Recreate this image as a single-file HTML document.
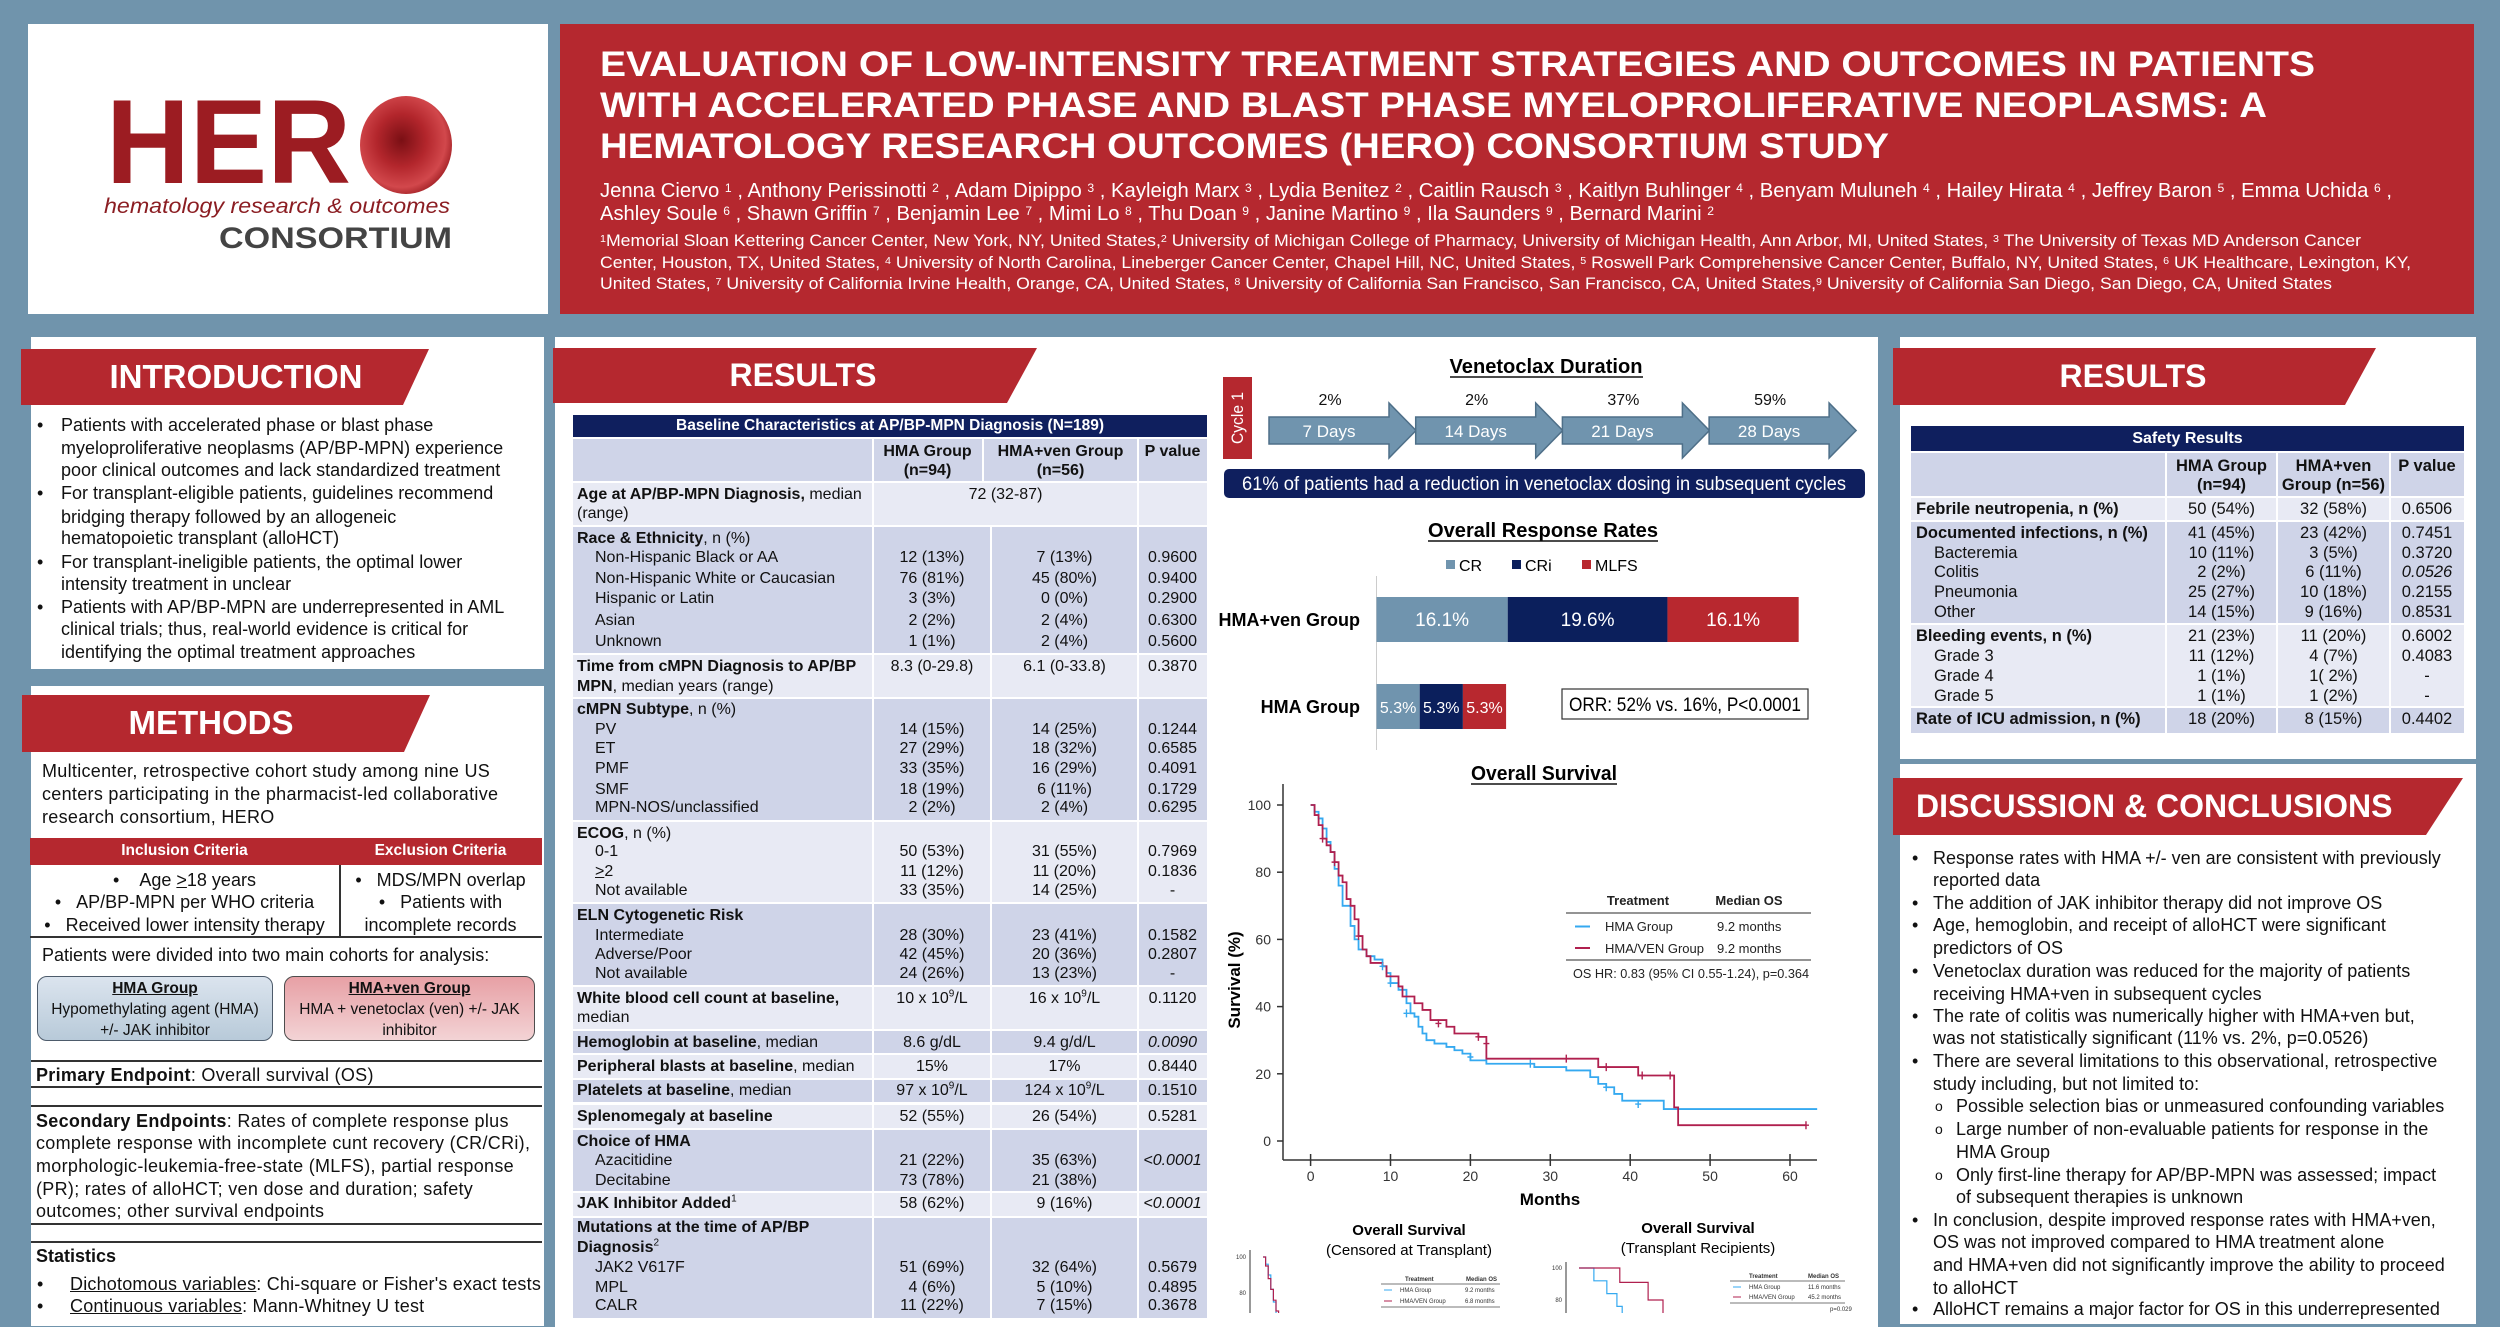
<!DOCTYPE html>
<html><head><meta charset="utf-8">
<style>
*{margin:0;padding:0;box-sizing:border-box}
body{width:2500px;height:1313px;background:#7094ac;position:relative;overflow:hidden;font-family:"Liberation Sans",Arial,sans-serif;color:#111}
.box{position:absolute;background:#fff}
.ban{position:absolute;background:#b5282f;color:#fff;font-weight:bold;font-size:33px;line-height:56px;white-space:nowrap}
.l{position:absolute;white-space:nowrap;height:20px;line-height:20px;font-size:18px}
.tb{position:absolute;white-space:nowrap;height:20px;line-height:20px;font-size:16px;color:#111}
.ml{left:577px}.mi{left:595px}
.mh{left:873px;width:118px;text-align:center}
.mv{left:991px;width:147px;text-align:center}
.mp{left:1138px;width:69px;text-align:center}
.rl{left:1916px;font-size:16.5px}.ri{left:1934px;font-size:16.5px}
.rh{left:2166px;width:111px;text-align:center;font-size:16.5px}
.rv{left:2277px;width:113px;text-align:center;font-size:16.5px}
.rp{left:2390px;width:74px;text-align:center;font-size:16.5px}
.dk{position:absolute;background:#cfd4e8}
.lt{position:absolute;background:#e8eaf4}
.vl{position:absolute;background:#fff;width:2px}
sup{font-size:10px;vertical-align:super;line-height:0}
b{font-weight:bold}
.hr{position:absolute;left:31px;width:511px;height:1.5px;background:#333}
</style></head>
<body>

<!-- HEADER -->
<div class="box" style="left:28px;top:24px;width:520px;height:290px"></div>
<div class="box" style="left:560px;top:24px;width:1914px;height:290px;background:#b5282f"></div>

<svg width="2500" height="330" style="position:absolute;left:0;top:0">
  <defs>
    <radialGradient id="cell" cx="45%" cy="45%" r="60%">
      <stop offset="0" stop-color="#7a0f14"/><stop offset="0.45" stop-color="#b3262c"/><stop offset="0.8" stop-color="#d2484c"/><stop offset="1" stop-color="#9b1b20"/>
    </radialGradient>
  </defs>
  <text x="106" y="183" font-size="120" font-weight="bold" fill="#9c1c22" textLength="245" lengthAdjust="spacingAndGlyphs">HER</text>
  <ellipse cx="406" cy="145" rx="46" ry="49" fill="url(#cell)"/>
  <text x="104" y="213" font-size="21" font-style="italic" fill="#8b1d22" textLength="346" lengthAdjust="spacingAndGlyphs">hematology  research  &amp;  outcomes</text>
  <text x="219" y="248" font-size="30" font-weight="bold" fill="#444" textLength="233" lengthAdjust="spacingAndGlyphs">CONSORTIUM</text>

  <g fill="#fff" font-weight="bold" font-size="35">
    <text x="600" y="76" textLength="1715" lengthAdjust="spacingAndGlyphs">EVALUATION OF LOW-INTENSITY TREATMENT STRATEGIES AND OUTCOMES IN PATIENTS</text>
    <text x="600" y="117" textLength="1667" lengthAdjust="spacingAndGlyphs">WITH ACCELERATED PHASE AND BLAST PHASE MYELOPROLIFERATIVE NEOPLASMS: A</text>
    <text x="600" y="158" textLength="1289" lengthAdjust="spacingAndGlyphs">HEMATOLOGY RESEARCH OUTCOMES (HERO) CONSORTIUM STUDY</text>
  </g>
  <g fill="#fff" font-size="20">
    <text x="600" y="197" textLength="1792" lengthAdjust="spacingAndGlyphs">Jenna Ciervo <tspan font-size="12" baseline-shift="45%">1</tspan> , Anthony Perissinotti <tspan font-size="12" baseline-shift="45%">2</tspan> , Adam Dipippo <tspan font-size="12" baseline-shift="45%">3</tspan> , Kayleigh Marx <tspan font-size="12" baseline-shift="45%">3</tspan> , Lydia Benitez <tspan font-size="12" baseline-shift="45%">2</tspan> , Caitlin Rausch <tspan font-size="12" baseline-shift="45%">3</tspan> , Kaitlyn Buhlinger <tspan font-size="12" baseline-shift="45%">4</tspan> , Benyam Muluneh <tspan font-size="12" baseline-shift="45%">4</tspan> , Hailey Hirata <tspan font-size="12" baseline-shift="45%">4</tspan> , Jeffrey Baron <tspan font-size="12" baseline-shift="45%">5</tspan> , Emma Uchida <tspan font-size="12" baseline-shift="45%">6</tspan> ,</text>
    <text x="600" y="220" textLength="1114" lengthAdjust="spacingAndGlyphs">Ashley Soule <tspan font-size="12" baseline-shift="45%">6</tspan> , Shawn Griffin <tspan font-size="12" baseline-shift="45%">7</tspan> , Benjamin Lee <tspan font-size="12" baseline-shift="45%">7</tspan> , Mimi Lo <tspan font-size="12" baseline-shift="45%">8</tspan> , Thu Doan <tspan font-size="12" baseline-shift="45%">9</tspan> , Janine Martino <tspan font-size="12" baseline-shift="45%">9</tspan> , Ila Saunders <tspan font-size="12" baseline-shift="45%">9</tspan> , Bernard Marini <tspan font-size="12" baseline-shift="45%">2</tspan></text>
  </g>
  <g fill="#fff" font-size="16.5">
    <text x="600" y="246" textLength="1761" lengthAdjust="spacingAndGlyphs"><tspan font-size="10" baseline-shift="45%">1</tspan>Memorial Sloan Kettering Cancer Center, New York, NY, United States,<tspan font-size="10" baseline-shift="45%">2</tspan> University of Michigan College of Pharmacy, University of Michigan Health, Ann Arbor, MI, United States, <tspan font-size="10" baseline-shift="45%">3</tspan> The University of Texas MD Anderson Cancer</text>
    <text x="600" y="268" textLength="1811" lengthAdjust="spacingAndGlyphs">Center, Houston, TX, United States, <tspan font-size="10" baseline-shift="45%">4</tspan> University of North Carolina, Lineberger Cancer Center, Chapel Hill, NC, United States, <tspan font-size="10" baseline-shift="45%">5</tspan> Roswell Park Comprehensive Cancer Center, Buffalo, NY, United States, <tspan font-size="10" baseline-shift="45%">6</tspan> UK Healthcare, Lexington, KY,</text>
    <text x="600" y="289" textLength="1732" lengthAdjust="spacingAndGlyphs">United States, <tspan font-size="10" baseline-shift="45%">7</tspan> University of California Irvine Health, Orange, CA, United States, <tspan font-size="10" baseline-shift="45%">8</tspan> University of California San Francisco, San Francisco, CA, United States,<tspan font-size="10" baseline-shift="45%">9</tspan> University of California San Diego, San Diego, CA, United States</text>
  </g>
</svg>

<!-- PANELS -->
<div class="box" style="left:31px;top:337px;width:513px;height:332px"></div>
<div class="box" style="left:31px;top:686px;width:513px;height:640px"></div>
<div class="box" style="left:555px;top:337px;width:1323px;height:990px"></div>
<div class="box" style="left:1900px;top:337px;width:576px;height:422px"></div>
<div class="box" style="left:1900px;top:764px;width:576px;height:560px"></div>

<!-- BANNERS -->
<div class="ban" style="left:21px;top:349px;width:408px;height:56px;clip-path:polygon(0 0,100% 0,calc(100% - 26px) 100%,0 100%)"><span style="position:absolute;left:215px;transform:translateX(-50%)">INTRODUCTION</span></div>
<div class="ban" style="left:22px;top:695px;width:408px;height:57px;clip-path:polygon(0 0,100% 0,calc(100% - 26px) 100%,0 100%)"><span style="position:absolute;left:189px;transform:translateX(-50%)">METHODS</span></div>
<div class="ban" style="left:553px;top:348px;width:484px;height:55px;line-height:55px;font-size:32px;clip-path:polygon(0 0,100% 0,calc(100% - 30px) 100%,0 100%)"><span style="position:absolute;left:250px;transform:translateX(-50%)">RESULTS</span></div>
<div class="ban" style="left:1893px;top:348px;width:483px;height:57px;line-height:57px;font-size:32px;clip-path:polygon(0 0,100% 0,calc(100% - 31px) 100%,0 100%)"><span style="position:absolute;left:240px;transform:translateX(-50%)">RESULTS</span></div>
<div class="ban" style="left:1893px;top:778px;width:570px;height:57px;line-height:57px;font-size:32px;clip-path:polygon(0 0,100% 0,calc(100% - 37px) 100%,0 100%)"><span style="position:absolute;left:23px">DISCUSSION &amp; CONCLUSIONS</span></div>

<!-- INTRODUCTION -->
<div>
<div class="l" style="left:37px;top:415px">•</div><div class="l" style="left:61px;top:415px">Patients with accelerated phase or blast phase</div>
<div class="l" style="left:61px;top:438px">myeloproliferative neoplasms (AP/BP-MPN) experience</div>
<div class="l" style="left:61px;top:460px">poor clinical outcomes and lack standardized treatment</div>
<div class="l" style="left:37px;top:483px">•</div><div class="l" style="left:61px;top:483px">For transplant-eligible patients, guidelines recommend</div>
<div class="l" style="left:61px;top:507px">bridging therapy followed by an allogeneic</div>
<div class="l" style="left:61px;top:528px">hematopoietic transplant (alloHCT)</div>
<div class="l" style="left:37px;top:552px">•</div><div class="l" style="left:61px;top:552px">For transplant-ineligible patients, the optimal lower</div>
<div class="l" style="left:61px;top:574px">intensity treatment in unclear</div>
<div class="l" style="left:37px;top:597px">•</div><div class="l" style="left:61px;top:597px">Patients with AP/BP-MPN are underrepresented in AML</div>
<div class="l" style="left:61px;top:619px">clinical trials; thus, real-world evidence is critical for</div>
<div class="l" style="left:61px;top:642px">identifying the optimal treatment approaches</div>
</div>

<!-- METHODS -->
<div>
<div class="l" style="left:42px;top:761px;letter-spacing:0.3px">Multicenter, retrospective cohort study among nine US</div>
<div class="l" style="left:42px;top:784px;letter-spacing:0.3px">centers participating in the pharmacist-led collaborative</div>
<div class="l" style="left:42px;top:807px;letter-spacing:0.3px">research consortium, HERO</div>
</div>
<div style="position:absolute;left:30px;top:838px;width:512px;height:27px;background:#b5282f"></div>
<div class="l" style="left:30px;top:841px;width:309px;text-align:center;color:#fff;font-weight:bold;font-size:15.5px">Inclusion Criteria</div>
<div class="l" style="left:339px;top:841px;width:203px;text-align:center;color:#fff;font-weight:bold;font-size:15.5px">Exclusion Criteria</div>
<div style="position:absolute;left:339px;top:865px;width:1.5px;height:72px;background:#333"></div>
<div style="position:absolute;left:30px;top:936px;width:512px;height:1.5px;background:#333"></div>
<div>
<div class="l" style="left:30px;top:870px;width:309px;text-align:center">•&nbsp;&nbsp;&nbsp;&nbsp;Age <u>&gt;</u>18 years</div>
<div class="l" style="left:30px;top:892px;width:309px;text-align:center">•&nbsp;&nbsp;&nbsp;AP/BP-MPN per WHO criteria</div>
<div class="l" style="left:30px;top:915px;width:309px;text-align:center">•&nbsp;&nbsp;&nbsp;Received lower intensity therapy</div>
</div>
<div>
<div class="l" style="left:339px;top:870px;width:203px;text-align:center">•&nbsp;&nbsp;&nbsp;MDS/MPN overlap</div>
<div class="l" style="left:339px;top:892px;width:203px;text-align:center">•&nbsp;&nbsp;&nbsp;Patients with</div>
<div class="l" style="left:339px;top:915px;width:203px;text-align:center">incomplete records</div>
</div>
<div class="l" style="left:42px;top:945px">Patients were divided into two main cohorts for analysis:</div>
<div style="position:absolute;left:37px;top:976px;width:236px;height:65px;border:1.5px solid #4d5b6b;border-radius:10px;background:linear-gradient(#dbe4ee,#b8cad9)">
  <div style="text-align:center;font-size:15.5px;line-height:21px;padding-top:1px"><b><u>HMA Group</u></b><br>Hypomethylating agent (HMA)<br>+/- JAK inhibitor</div>
</div>
<div style="position:absolute;left:284px;top:976px;width:251px;height:65px;border:1.5px solid #4d4d4d;border-radius:10px;background:linear-gradient(#e7a0a5,#f3d3d5)">
  <div style="text-align:center;font-size:15.5px;line-height:21px;padding-top:1px"><b><u>HMA+ven Group</u></b><br>HMA + venetoclax (ven) +/- JAK<br>inhibitor</div>
</div>
<div class="hr" style="top:1060px"></div>
<div class="l" style="left:36px;top:1065px;letter-spacing:0.3px"><b>Primary Endpoint</b>: Overall survival (OS)</div>
<div class="hr" style="top:1086px"></div>
<div class="hr" style="top:1105px"></div>
<div>
<div class="l" style="left:36px;top:1111px;letter-spacing:0.3px"><b>Secondary Endpoints</b>: Rates of complete response plus</div>
<div class="l" style="left:36px;top:1133px;letter-spacing:0.3px">complete response with incomplete cunt recovery (CR/CRi),</div>
<div class="l" style="left:36px;top:1156px;letter-spacing:0.3px">morphologic-leukemia-free-state (MLFS), partial response</div>
<div class="l" style="left:36px;top:1179px;letter-spacing:0.3px">(PR); rates of alloHCT; ven dose and duration; safety</div>
<div class="l" style="left:36px;top:1201px;letter-spacing:0.3px">outcomes; other survival endpoints</div>
</div>
<div class="hr" style="top:1223px"></div>
<div class="hr" style="top:1241px"></div>
<div>
<div class="l" style="left:36px;top:1246px;font-weight:bold">Statistics</div>
<div class="l" style="left:37px;top:1274px">•</div><div class="l" style="left:70px;top:1274px;letter-spacing:0.2px"><u>Dichotomous variables</u>: Chi-square or Fisher's exact tests</div>
<div class="l" style="left:37px;top:1296px">•</div><div class="l" style="left:70px;top:1296px;letter-spacing:0.2px"><u>Continuous variables</u>: Mann-Whitney U test</div>
</div>

<!-- BASELINE TABLE -->
<div>
<div style="position:absolute;left:573px;top:415px;width:634px;height:22px;background:#0f1f5e;color:#fff;font-weight:bold;font-size:15.5px;line-height:22px;text-align:center">Baseline Characteristics at AP/BP-MPN Diagnosis (N=189)</div>
<div class="dk" style="left:573px;top:439px;width:634px;height:42px"></div>
<div class="lt" style="left:573px;top:483px;width:634px;height:42px"></div>
<div class="dk" style="left:573px;top:527px;width:634px;height:126px"></div>
<div class="lt" style="left:573px;top:655px;width:634px;height:42px"></div>
<div class="dk" style="left:573px;top:699px;width:634px;height:121px"></div>
<div class="lt" style="left:573px;top:822px;width:634px;height:80px"></div>
<div class="dk" style="left:573px;top:904px;width:634px;height:81px"></div>
<div class="lt" style="left:573px;top:987px;width:634px;height:42px"></div>
<div class="dk" style="left:573px;top:1031px;width:634px;height:22px"></div>
<div class="lt" style="left:573px;top:1055px;width:634px;height:23px"></div>
<div class="dk" style="left:573px;top:1080px;width:634px;height:22px"></div>
<div class="lt" style="left:573px;top:1105px;width:634px;height:23px"></div>
<div class="dk" style="left:573px;top:1130px;width:634px;height:61px"></div>
<div class="lt" style="left:573px;top:1193px;width:634px;height:23px"></div>
<div class="dk" style="left:573px;top:1218px;width:634px;height:100px"></div>
<div class="vl" style="left:872px;top:439px;height:880px"></div>
<div class="vl" style="left:982px;top:439px;height:42px"></div>
<div class="vl" style="left:990px;top:527px;height:792px"></div>
<div class="vl" style="left:1137px;top:439px;height:880px"></div>

<div class="tb mh" style="top:442px;font-weight:bold;left:873px;width:109px">HMA Group</div>
<div class="tb mh" style="top:461px;font-weight:bold;left:873px;width:109px">(n=94)</div>
<div class="tb mv" style="top:442px;font-weight:bold;left:983px;width:155px">HMA+ven Group</div>
<div class="tb mv" style="top:461px;font-weight:bold;left:983px;width:155px">(n=56)</div>
<div class="tb mp" style="top:442px;font-weight:bold">P value</div>

<div class="tb ml" style="top:485px"><b>Age at AP/BP-MPN Diagnosis,</b> median</div>
<div class="tb ml" style="top:504px">(range)</div>
<div class="tb" style="left:873px;width:265px;text-align:center;top:485px">72 (32-87)</div>

<div class="tb ml" style="top:529px"><b>Race &amp; Ethnicity</b>, n (%)</div>
<div class="tb mi" style="top:548px">Non-Hispanic Black or AA</div><div class="tb mh" style="top:548px">12 (13%)</div><div class="tb mv" style="top:548px">7 (13%)</div><div class="tb mp" style="top:548px">0.9600</div>
<div class="tb mi" style="top:569px">Non-Hispanic White or Caucasian</div><div class="tb mh" style="top:569px">76 (81%)</div><div class="tb mv" style="top:569px">45 (80%)</div><div class="tb mp" style="top:569px">0.9400</div>
<div class="tb mi" style="top:589px">Hispanic or Latin</div><div class="tb mh" style="top:589px">3 (3%)</div><div class="tb mv" style="top:589px">0 (0%)</div><div class="tb mp" style="top:589px">0.2900</div>
<div class="tb mi" style="top:611px">Asian</div><div class="tb mh" style="top:611px">2 (2%)</div><div class="tb mv" style="top:611px">2 (4%)</div><div class="tb mp" style="top:611px">0.6300</div>
<div class="tb mi" style="top:632px">Unknown</div><div class="tb mh" style="top:632px">1 (1%)</div><div class="tb mv" style="top:632px">2 (4%)</div><div class="tb mp" style="top:632px">0.5600</div>

<div class="tb ml" style="top:657px;font-weight:bold">Time from cMPN Diagnosis to AP/BP</div>
<div class="tb ml" style="top:677px"><b>MPN</b>, median years (range)</div>
<div class="tb mh" style="top:657px">8.3 (0-29.8)</div><div class="tb mv" style="top:657px">6.1 (0-33.8)</div><div class="tb mp" style="top:657px">0.3870</div>

<div class="tb ml" style="top:700px"><b>cMPN Subtype</b>, n (%)</div>
<div class="tb mi" style="top:720px">PV</div><div class="tb mh" style="top:720px">14 (15%)</div><div class="tb mv" style="top:720px">14 (25%)</div><div class="tb mp" style="top:720px">0.1244</div>
<div class="tb mi" style="top:739px">ET</div><div class="tb mh" style="top:739px">27 (29%)</div><div class="tb mv" style="top:739px">18 (32%)</div><div class="tb mp" style="top:739px">0.6585</div>
<div class="tb mi" style="top:759px">PMF</div><div class="tb mh" style="top:759px">33 (35%)</div><div class="tb mv" style="top:759px">16 (29%)</div><div class="tb mp" style="top:759px">0.4091</div>
<div class="tb mi" style="top:780px">SMF</div><div class="tb mh" style="top:780px">18 (19%)</div><div class="tb mv" style="top:780px">6 (11%)</div><div class="tb mp" style="top:780px">0.1729</div>
<div class="tb mi" style="top:798px">MPN-NOS/unclassified</div><div class="tb mh" style="top:798px">2 (2%)</div><div class="tb mv" style="top:798px">2 (4%)</div><div class="tb mp" style="top:798px">0.6295</div>

<div class="tb ml" style="top:824px"><b>ECOG</b>, n (%)</div>
<div class="tb mi" style="top:842px">0-1</div><div class="tb mh" style="top:842px">50 (53%)</div><div class="tb mv" style="top:842px">31 (55%)</div><div class="tb mp" style="top:842px">0.7969</div>
<div class="tb mi" style="top:862px"><u>&gt;</u>2</div><div class="tb mh" style="top:862px">11 (12%)</div><div class="tb mv" style="top:862px">11 (20%)</div><div class="tb mp" style="top:862px">0.1836</div>
<div class="tb mi" style="top:881px">Not available</div><div class="tb mh" style="top:881px">33 (35%)</div><div class="tb mv" style="top:881px">14 (25%)</div><div class="tb mp" style="top:881px">-</div>

<div class="tb ml" style="top:906px;font-weight:bold">ELN Cytogenetic Risk</div>
<div class="tb mi" style="top:926px">Intermediate</div><div class="tb mh" style="top:926px">28 (30%)</div><div class="tb mv" style="top:926px">23 (41%)</div><div class="tb mp" style="top:926px">0.1582</div>
<div class="tb mi" style="top:945px">Adverse/Poor</div><div class="tb mh" style="top:945px">42 (45%)</div><div class="tb mv" style="top:945px">20 (36%)</div><div class="tb mp" style="top:945px">0.2807</div>
<div class="tb mi" style="top:964px">Not available</div><div class="tb mh" style="top:964px">24 (26%)</div><div class="tb mv" style="top:964px">13 (23%)</div><div class="tb mp" style="top:964px">-</div>

<div class="tb ml" style="top:989px;font-weight:bold">White blood cell count at baseline,</div>
<div class="tb ml" style="top:1008px">median</div>
<div class="tb mh" style="top:989px">10 x 10<sup>9</sup>/L</div><div class="tb mv" style="top:989px">16 x 10<sup>9</sup>/L</div><div class="tb mp" style="top:989px">0.1120</div>

<div class="tb ml" style="top:1033px"><b>Hemoglobin at baseline</b>, median</div><div class="tb mh" style="top:1033px">8.6 g/dL</div><div class="tb mv" style="top:1033px">9.4 g/d/L</div><div class="tb mp" style="top:1033px;font-style:italic">0.0090</div>
<div class="tb ml" style="top:1057px"><b>Peripheral blasts at baseline</b>, median</div><div class="tb mh" style="top:1057px">15%</div><div class="tb mv" style="top:1057px">17%</div><div class="tb mp" style="top:1057px">0.8440</div>
<div class="tb ml" style="top:1081px"><b>Platelets at baseline</b>, median</div><div class="tb mh" style="top:1081px">97 x 10<sup>9</sup>/L</div><div class="tb mv" style="top:1081px">124 x 10<sup>9</sup>/L</div><div class="tb mp" style="top:1081px">0.1510</div>
<div class="tb ml" style="top:1107px;font-weight:bold">Splenomegaly at baseline</div><div class="tb mh" style="top:1107px">52 (55%)</div><div class="tb mv" style="top:1107px">26 (54%)</div><div class="tb mp" style="top:1107px">0.5281</div>

<div class="tb ml" style="top:1132px;font-weight:bold">Choice of HMA</div>
<div class="tb mi" style="top:1151px">Azacitidine</div><div class="tb mh" style="top:1151px">21 (22%)</div><div class="tb mv" style="top:1151px">35 (63%)</div><div class="tb mp" style="top:1151px;font-style:italic">&lt;0.0001</div>
<div class="tb mi" style="top:1171px">Decitabine</div><div class="tb mh" style="top:1171px">73 (78%)</div><div class="tb mv" style="top:1171px">21 (38%)</div>

<div class="tb ml" style="top:1194px;font-weight:bold">JAK Inhibitor Added<sup style="font-weight:normal">1</sup></div><div class="tb mh" style="top:1194px">58 (62%)</div><div class="tb mv" style="top:1194px">9 (16%)</div><div class="tb mp" style="top:1194px;font-style:italic">&lt;0.0001</div>

<div class="tb ml" style="top:1218px;font-weight:bold">Mutations at the time of AP/BP</div>
<div class="tb ml" style="top:1238px;font-weight:bold">Diagnosis<sup style="font-weight:normal">2</sup></div>
<div class="tb mi" style="top:1258px">JAK2 V617F</div><div class="tb mh" style="top:1258px">51 (69%)</div><div class="tb mv" style="top:1258px">32 (64%)</div><div class="tb mp" style="top:1258px">0.5679</div>
<div class="tb mi" style="top:1278px">MPL</div><div class="tb mh" style="top:1278px">4 (6%)</div><div class="tb mv" style="top:1278px">5 (10%)</div><div class="tb mp" style="top:1278px">0.4895</div>
<div class="tb mi" style="top:1296px">CALR</div><div class="tb mh" style="top:1296px">11 (22%)</div><div class="tb mv" style="top:1296px">7 (15%)</div><div class="tb mp" style="top:1296px">0.3678</div>
</div>

<!-- SAFETY TABLE -->
<div>
<div style="position:absolute;left:1911px;top:426px;width:553px;height:25px;background:#0f1f5e;color:#fff;font-weight:bold;font-size:16px;line-height:25px;text-align:center">Safety Results</div>
<div class="dk" style="left:1911px;top:453px;width:553px;height:43px"></div>
<div class="lt" style="left:1911px;top:498px;width:553px;height:22px"></div>
<div class="dk" style="left:1911px;top:522px;width:553px;height:101px"></div>
<div class="lt" style="left:1911px;top:625px;width:553px;height:81px"></div>
<div class="dk" style="left:1911px;top:708px;width:553px;height:25px"></div>
<div class="vl" style="left:2165px;top:453px;height:280px"></div>
<div class="vl" style="left:2276px;top:453px;height:280px"></div>
<div class="vl" style="left:2389px;top:453px;height:280px"></div>

<div class="tb rh" style="top:456px;font-weight:bold">HMA Group</div><div class="tb rh" style="top:475px;font-weight:bold">(n=94)</div>
<div class="tb rv" style="top:456px;font-weight:bold">HMA+ven</div><div class="tb rv" style="top:475px;font-weight:bold">Group (n=56)</div>
<div class="tb rp" style="top:456px;font-weight:bold">P value</div>

<div class="tb rl" style="top:499px;font-weight:bold">Febrile neutropenia, n (%)</div><div class="tb rh" style="top:499px">50 (54%)</div><div class="tb rv" style="top:499px">32 (58%)</div><div class="tb rp" style="top:499px">0.6506</div>
<div class="tb rl" style="top:523px;font-weight:bold">Documented infections, n (%)</div><div class="tb rh" style="top:523px">41 (45%)</div><div class="tb rv" style="top:523px">23 (42%)</div><div class="tb rp" style="top:523px">0.7451</div>
<div class="tb ri" style="top:543px">Bacteremia</div><div class="tb rh" style="top:543px">10 (11%)</div><div class="tb rv" style="top:543px">3 (5%)</div><div class="tb rp" style="top:543px">0.3720</div>
<div class="tb ri" style="top:562px">Colitis</div><div class="tb rh" style="top:562px">2 (2%)</div><div class="tb rv" style="top:562px">6 (11%)</div><div class="tb rp" style="top:562px;font-style:italic">0.0526</div>
<div class="tb ri" style="top:582px">Pneumonia</div><div class="tb rh" style="top:582px">25 (27%)</div><div class="tb rv" style="top:582px">10 (18%)</div><div class="tb rp" style="top:582px">0.2155</div>
<div class="tb ri" style="top:602px">Other</div><div class="tb rh" style="top:602px">14 (15%)</div><div class="tb rv" style="top:602px">9 (16%)</div><div class="tb rp" style="top:602px">0.8531</div>
<div class="tb rl" style="top:626px;font-weight:bold">Bleeding events, n (%)</div><div class="tb rh" style="top:626px">21 (23%)</div><div class="tb rv" style="top:626px">11 (20%)</div><div class="tb rp" style="top:626px">0.6002</div>
<div class="tb ri" style="top:646px">Grade 3</div><div class="tb rh" style="top:646px">11 (12%)</div><div class="tb rv" style="top:646px">4 (7%)</div><div class="tb rp" style="top:646px">0.4083</div>
<div class="tb ri" style="top:666px">Grade 4</div><div class="tb rh" style="top:666px">1 (1%)</div><div class="tb rv" style="top:666px">1( 2%)</div><div class="tb rp" style="top:666px">-</div>
<div class="tb ri" style="top:686px">Grade 5</div><div class="tb rh" style="top:686px">1 (1%)</div><div class="tb rv" style="top:686px">1 (2%)</div><div class="tb rp" style="top:686px">-</div>
<div class="tb rl" style="top:709px;font-weight:bold">Rate of ICU admission, n (%)</div><div class="tb rh" style="top:709px">18 (20%)</div><div class="tb rv" style="top:709px">8 (15%)</div><div class="tb rp" style="top:709px">0.4402</div>
</div>

<!-- DISCUSSION -->
<div>
<div class="l" style="left:1912px;top:848px">•</div><div class="l" style="left:1933px;top:848px">Response rates with HMA +/- ven are consistent with previously</div>
<div class="l" style="left:1933px;top:870px">reported data</div>
<div class="l" style="left:1912px;top:893px">•</div><div class="l" style="left:1933px;top:893px">The addition of JAK inhibitor therapy did not improve OS</div>
<div class="l" style="left:1912px;top:915px">•</div><div class="l" style="left:1933px;top:915px">Age, hemoglobin, and receipt of alloHCT were significant</div>
<div class="l" style="left:1933px;top:938px">predictors of OS</div>
<div class="l" style="left:1912px;top:961px">•</div><div class="l" style="left:1933px;top:961px">Venetoclax duration was reduced for the majority of patients</div>
<div class="l" style="left:1933px;top:984px">receiving HMA+ven in subsequent cycles</div>
<div class="l" style="left:1912px;top:1006px">•</div><div class="l" style="left:1933px;top:1006px">The rate of colitis was numerically higher with HMA+ven but,</div>
<div class="l" style="left:1933px;top:1028px">was not statistically significant (11% vs. 2%, p=0.0526)</div>
<div class="l" style="left:1912px;top:1051px">•</div><div class="l" style="left:1933px;top:1051px">There are several limitations to this observational, retrospective</div>
<div class="l" style="left:1933px;top:1074px">study including, but not limited to:</div>
<div class="l" style="left:1935px;top:1096px;font-size:14px">o</div><div class="l" style="left:1956px;top:1096px">Possible selection bias or unmeasured confounding variables</div>
<div class="l" style="left:1935px;top:1119px;font-size:14px">o</div><div class="l" style="left:1956px;top:1119px">Large number of non-evaluable patients for response in the</div>
<div class="l" style="left:1956px;top:1142px">HMA Group</div>
<div class="l" style="left:1935px;top:1165px;font-size:14px">o</div><div class="l" style="left:1956px;top:1165px">Only first-line therapy for AP/BP-MPN was assessed; impact</div>
<div class="l" style="left:1956px;top:1187px">of subsequent therapies is unknown</div>
<div class="l" style="left:1912px;top:1210px">•</div><div class="l" style="left:1933px;top:1210px">In conclusion, despite improved response rates with HMA+ven,</div>
<div class="l" style="left:1933px;top:1232px">OS was not improved compared to HMA treatment alone</div>
<div class="l" style="left:1933px;top:1255px">and HMA+ven did not significantly improve the ability to proceed</div>
<div class="l" style="left:1933px;top:1278px">to alloHCT</div>
<div class="l" style="left:1912px;top:1299px">•</div><div class="l" style="left:1933px;top:1299px">AlloHCT remains a major factor for OS in this underrepresented</div>
</div>

<!-- CHARTS -->
<svg id="ov" width="2500" height="1313" style="position:absolute;left:0;top:0" font-family="Liberation Sans, Arial, sans-serif">
  <text x="1546" y="373" font-size="20" font-weight="bold" text-anchor="middle" textLength="193" lengthAdjust="spacingAndGlyphs">Venetoclax Duration</text>
  <line x1="1450" y1="377" x2="1643" y2="377" stroke="#111" stroke-width="1.5"/>
  <rect x="1223" y="377" width="29" height="82" fill="#b5282f"/>
  <text transform="translate(1243,418) rotate(-90)" font-size="17" fill="#fff" text-anchor="middle" textLength="52" lengthAdjust="spacingAndGlyphs">Cycle 1</text>
  <rect x="1224" y="469" width="641" height="29" rx="5" fill="#0f1f5e"/>
  <text x="1544" y="490" font-size="19" fill="#fff" text-anchor="middle" textLength="604" lengthAdjust="spacingAndGlyphs">61% of patients had a reduction in venetoclax dosing in subsequent cycles</text>

  <text x="1543" y="537" font-size="20" font-weight="bold" text-anchor="middle" textLength="230" lengthAdjust="spacingAndGlyphs">Overall Response Rates</text>
  <line x1="1428" y1="541" x2="1658" y2="541" stroke="#111" stroke-width="1.5"/>
  <g font-size="16">
    <rect x="1446" y="560" width="9" height="9" fill="#7094ae"/><text x="1459" y="571">CR</text>
    <rect x="1512" y="560" width="9" height="9" fill="#0b1f5c"/><text x="1525" y="571">CRi</text>
    <rect x="1582" y="560" width="9" height="9" fill="#b8282f"/><text x="1595" y="571">MLFS</text>
  </g>
  <line x1="1376.5" y1="576" x2="1376.5" y2="750" stroke="#ccc" stroke-width="1"/>
  <rect x="1562" y="689" width="246" height="30" fill="#fff" stroke="#333" stroke-width="1.2"/>
  <text x="1685" y="711" font-size="19" text-anchor="middle" textLength="232" lengthAdjust="spacingAndGlyphs">ORR: 52% vs. 16%, P&lt;0.0001</text>

  <text x="1544" y="780" font-size="20" font-weight="bold" text-anchor="middle" textLength="146" lengthAdjust="spacingAndGlyphs">Overall Survival</text>
  <line x1="1471" y1="784" x2="1617" y2="784" stroke="#111" stroke-width="1.5"/>
  <line x1="1283" y1="784" x2="1283" y2="1160" stroke="#333" stroke-width="1.5"/>
  <line x1="1283" y1="1160" x2="1817" y2="1160" stroke="#333" stroke-width="1.5"/>
  <text x="1550" y="1205" font-size="17" font-weight="bold" text-anchor="middle">Months</text>
  <text transform="translate(1240,980) rotate(-90)" font-size="17" font-weight="bold" text-anchor="middle">Survival (%)</text>
  <g font-size="13" fill="#222">
    <text x="1638" y="905" font-weight="bold" text-anchor="middle">Treatment</text>
    <text x="1749" y="905" font-weight="bold" text-anchor="middle">Median OS</text>
    <line x1="1566" y1="913" x2="1811" y2="913" stroke="#555" stroke-width="1.2"/>
    <line x1="1575" y1="926.5" x2="1590" y2="926.5" stroke="#35a9f0" stroke-width="2"/>
    <text x="1605" y="931">HMA Group</text><text x="1717" y="931">9.2 months</text>
    <line x1="1575" y1="948" x2="1590" y2="948" stroke="#b0204f" stroke-width="2"/>
    <text x="1605" y="953">HMA/VEN Group</text><text x="1717" y="953">9.2 months</text>
    <line x1="1566" y1="960" x2="1811" y2="960" stroke="#555" stroke-width="1.2"/>
    <text x="1573" y="978" textLength="236" lengthAdjust="spacingAndGlyphs">OS HR: 0.83 (95% CI 0.55-1.24), p=0.364</text>
  </g>

  <g font-size="15" text-anchor="middle">
    <text x="1409" y="1235" font-weight="bold">Overall Survival</text>
    <text x="1409" y="1255">(Censored at Transplant)</text>
    <text x="1698" y="1233" font-weight="bold">Overall Survival</text>
    <text x="1698" y="1253">(Transplant Recipients)</text>
  </g>
  <g font-size="6" fill="#333">
    <line x1="1250" y1="1250" x2="1250" y2="1313" stroke="#333"/>
    <text x="1246" y="1259" text-anchor="end">100</text><text x="1246" y="1295" text-anchor="end">80</text>
    <line x1="1566" y1="1262" x2="1566" y2="1313" stroke="#333"/>
    <text x="1562" y="1270" text-anchor="end">100</text><text x="1562" y="1302" text-anchor="end">80</text>
    <text x="1405" y="1281" font-weight="bold">Treatment</text><text x="1466" y="1281" font-weight="bold">Median OS</text>
    <line x1="1381" y1="1284" x2="1500" y2="1284" stroke="#777"/>
    <line x1="1384" y1="1290" x2="1392" y2="1290" stroke="#35a9f0"/><text x="1400" y="1292">HMA Group</text><text x="1465" y="1292">9.2 months</text>
    <line x1="1384" y1="1301" x2="1392" y2="1301" stroke="#b0204f"/><text x="1400" y="1303">HMA/VEN Group</text><text x="1465" y="1303">6.8 months</text>
    <line x1="1381" y1="1307" x2="1500" y2="1307" stroke="#777"/>
    <text x="1749" y="1278" font-weight="bold">Treatment</text><text x="1808" y="1278" font-weight="bold">Median OS</text>
    <line x1="1730" y1="1281" x2="1845" y2="1281" stroke="#777"/>
    <line x1="1733" y1="1287" x2="1741" y2="1287" stroke="#35a9f0"/><text x="1749" y="1289">HMA Group</text><text x="1808" y="1289">11.6 months</text>
    <line x1="1733" y1="1297" x2="1741" y2="1297" stroke="#b0204f"/><text x="1749" y="1299">HMA/VEN Group</text><text x="1808" y="1299">45.2 months</text>
    <line x1="1730" y1="1303" x2="1845" y2="1303" stroke="#777"/>
    <text x="1830" y="1311">p=0.029</text>
  </g>
</svg>

<script>
// ---- Venetoclax duration data ----
const durCats = ['7 Days', '14 Days', '21 Days', '28 Days'];
const durPct = [2, 2, 37, 59];
// ---- Overall response rates ----
const orrGroups = ['HMA+ven Group', 'HMA Group'];
const orrCR = [16.1, 5.3];
const orrCRi = [19.6, 5.3];
const orrMLFS = [16.1, 5.3];
// ---- Overall survival (Kaplan-Meier) ----
const kmTicksX = [0, 10, 20, 30, 40, 50, 60];
const kmTicksY = [0, 20, 40, 60, 80, 100];
const hmaT = [0,0.5,1,1.5,2,2.5,3,3.5,4,5,5.5,6,7,8,9,9.5,10,11,12,12.5,13,13.5,14,14.5,15.5,17,18,19,20,22,28,32,35,36,37,38,39,44.2];
const hmaS = [100,98,96,93,89,86,81,76,70,64,60,57,55,54,52,50,47,45,41,38,37,34,32,30,29,28,27,26,24,23,22,21,19,17,16,14,12,9.5];
const hmaEnd = [63.4];
const venT = [0,0.5,1,1.5,2,2.5,3,3.5,4,4.5,5,5.5,6,6.5,7,7.5,9,9.5,11,11.5,13,14,15,17,18,21,22,36,41,45.5,46];
const venS = [100,97,94,90,88,86,83,79,77,72,70,66,61,57,55,53,52,49,46,43,41,39,36,34,32,31,24.5,22,19.5,10,4.7];
const venEnd = [62];
const hmaCensT = [9,10,12,20,27.5,37,41];
const hmaCensS = [52,47,38,25,23,16,11];
const venCensT = [1.5,3,6,16,21,22,32,37,41.5,45,62];
const venCensS = [90,83,61,35,31,29,24.5,22,19.5,19.5,4.7];
// ---- small OS charts ----
const cenHmaT = [0,1,2,3,4,5,6,7];
const cenHmaS = [100,96,90,82,75,68,62,56];
const cenVenT = [0,1,2,3,4,5,6,7];
const cenVenS = [100,95,88,82,76,70,63,57];
const trHmaT = [0,3.1,5.8,7.9,9];
const trHmaS = [100,92,84,76,60];
const trVenT = [0,8.5,14.4,17.5,19];
const trVenS = [100,91,80,60,50];

const NS = 'http://www.w3.org/2000/svg';
const svg = document.getElementById('ov');
function mk(tag, attrs, txt) {
  const e = document.createElementNS(NS, tag);
  for (const k in attrs) e.setAttribute(k, attrs[k]);
  if (txt !== undefined) e.textContent = txt;
  svg.appendChild(e);
  return e;
}

// arrows
const arrX0 = 1269, arrStep = 146.7;
durCats.forEach((c, i) => {
  const x0 = arrX0 + i * arrStep;
  const a = mk('path', {d: `M${x0} 417 H${x0+120} V403 L${x0+147} 430.5 L${x0+120} 458 V444 H${x0} Z`, fill: '#7094ae', stroke: '#4e6f88', 'stroke-width': 1.5});
  
  
  const t = mk('text', {x: x0 + 60, y: 437, 'font-size': 17, fill: '#fff', 'text-anchor': 'middle'}, c);
  
  
  const p = mk('text', {x: x0 + 61, y: 405, 'font-size': 16, fill: '#111', 'text-anchor': 'middle'}, durPct[i] + '%');
  
  
});

// ORR stacked bars
const xO = v => 1376.5 + v * 8.15;
const orrRowTop = [597, 684];
const orrSeries = [orrCR, orrCRi, orrMLFS];
const orrColors = ['#7094ae', '#0b1f5c', '#b8282f'];
orrGroups.forEach((g, i) => {
  const gl = mk('text', {x: 1360, y: orrRowTop[i] + 29, 'font-size': 18, 'font-weight': 'bold', 'text-anchor': 'end'}, g);
  
  
  let acc = 0;
  orrSeries.forEach((s, j) => {
    const v = s[i];
    const r = mk('rect', {x: xO(acc), y: orrRowTop[i], width: xO(acc + v) - xO(acc), height: 45, fill: orrColors[j]});
    
    
    const lb = mk('text', {x: (xO(acc) + xO(acc + v)) / 2, y: orrRowTop[i] + 29, 'font-size': v < 8 ? 16 : 19, fill: '#fff', 'text-anchor': 'middle'}, v.toFixed(1) + '%');
    
    
    acc += v;
  });
});

// KM axes
const xK = t => 1310.6 + t * 7.99;
const yK = s => 1141 - s * 3.36;
kmTicksY.forEach(v => {
  const tk = mk('line', {x1: 1277, x2: 1283, y1: yK(v), y2: yK(v), stroke: '#333', 'stroke-width': 1.5});
  
  
  const tl = mk('text', {x: 1271, y: yK(v) + 5, 'font-size': 14, fill: '#333', 'text-anchor': 'end'}, String(v));
  
  
});
kmTicksX.forEach(v => {
  const tk = mk('line', {x1: xK(v), x2: xK(v), y1: 1154, y2: 1166, stroke: '#333', 'stroke-width': 1.5});
  
  
  const tl = mk('text', {x: xK(v), y: 1181, 'font-size': 14, fill: '#333', 'text-anchor': 'middle'}, String(v));
  
  
});
function stepPath(T, S, end, fx, fy) {
  let d = `M${fx(T[0])} ${fy(S[0])}`;
  for (let i = 1; i < T.length; i++) d += ` H${fx(T[i])} V${fy(S[i])}`;
  if (end !== null) d += ` H${fx(end)}`;
  return d;
}
const hmaLine = mk('path', {d: stepPath(hmaT, hmaS, hmaEnd[0], xK, yK), fill: 'none', stroke: '#35a9f0', 'stroke-width': 1.8});


const venLine = mk('path', {d: stepPath(venT, venS, venEnd[0], xK, yK), fill: 'none', stroke: '#b0204f', 'stroke-width': 1.8});


hmaCensT.forEach((t, i) => {
  const c = mk('path', {d: `M${xK(t)} ${yK(hmaCensS[i]) - 4} V${yK(hmaCensS[i]) + 4} M${xK(t) - 3} ${yK(hmaCensS[i])} H${xK(t) + 3}`, stroke: '#35a9f0', 'stroke-width': 1.4});
  
  
});
venCensT.forEach((t, i) => {
  const c = mk('path', {d: `M${xK(t)} ${yK(venCensS[i]) - 4} V${yK(venCensS[i]) + 4} M${xK(t) - 3} ${yK(venCensS[i])} H${xK(t) + 3}`, stroke: '#b0204f', 'stroke-width': 1.4});
  
  
});

// small charts
const xC = t => 1263 + t * 2.6;
const yC = s => 1257 + (100 - s) * 1.8;
const xR = t => 1579 + t * 4.8;
const yR = s => 1268 + (100 - s) * 1.6;
const sm = [
  [cenHmaT, cenHmaS, xC, yC, '#35a9f0', 'censored-os-hma-curve'],
  [cenVenT, cenVenS, xC, yC, '#b0204f', 'censored-os-ven-curve'],
  [trHmaT, trHmaS, xR, yR, '#35a9f0', 'transplant-os-hma-curve'],
  [trVenT, trVenS, xR, yR, '#b0204f', 'transplant-os-ven-curve']
];
sm.forEach(c => {
  const p = mk('path', {d: stepPath(c[0], c[1], null, c[2], c[3]), fill: 'none', stroke: c[4], 'stroke-width': 1.2});
  
  
});
</script>
</body></html>
